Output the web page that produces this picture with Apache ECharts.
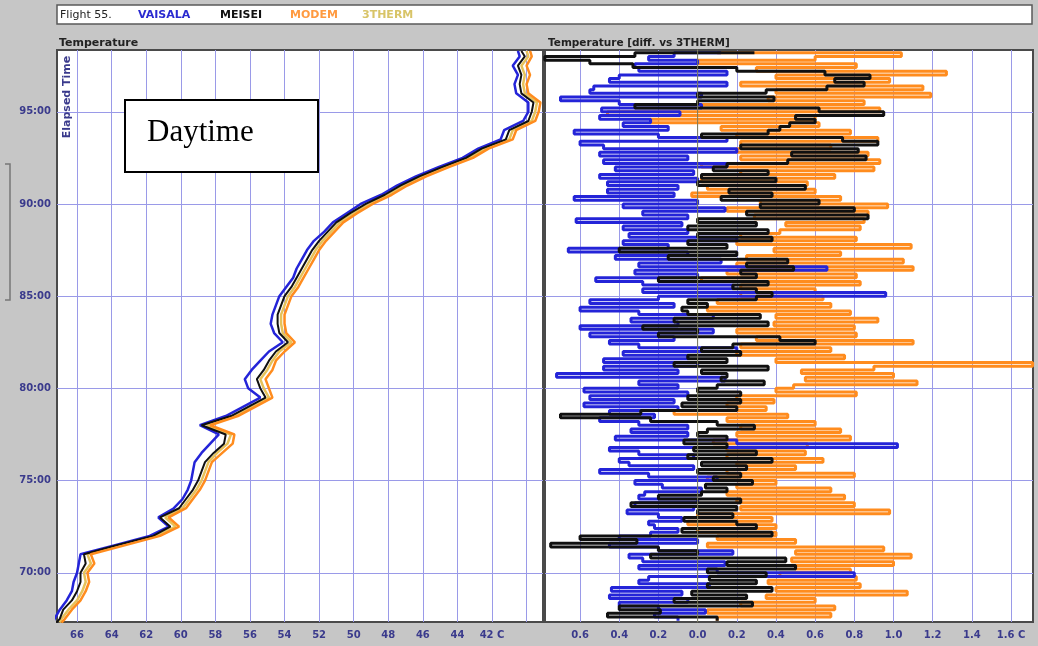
<!DOCTYPE html>
<html><head><meta charset="utf-8">
<script src="https://cdn.jsdelivr.net/npm/echarts@6/dist/echarts.min.js"></script>
<style>html,body{margin:0;padding:0;background:#c6c6c6}#c{width:1038px;height:646px}</style>
</head><body><div id="c"></div>
<script>
// ---------- tick labels ----------
const timeTicks = [70, 75, 80, 85, 90, 95];
const tempTicks = [-66, -64, -62, -60, -58, -56, -54, -52, -50, -48, -46, -44, -42, -40];
const tempLabelTicks = [-66, -64, -62, -60, -58, -56, -54, -52, -50, -48, -46, -44, -42];
const diffTicks = [-0.6, -0.4, -0.2, 0.0, 0.2, 0.4, 0.6, 0.8, 1.0, 1.2, 1.4, 1.6];

// ---------- left panel: temperature profiles (elapsed minutes) ----------
const timesL = [67.3, 67.5, 68.0, 68.5, 69.0, 69.5, 70.0, 70.5, 71.0, 71.5, 72.0, 72.5, 73.0, 73.5, 74.0, 74.5,
  75.0, 75.5, 76.0, 76.5, 77.0, 77.5, 78.0, 78.5, 79.0, 79.5, 80.0, 80.5, 81.0, 81.5, 82.0, 82.5,
  83.0, 83.5, 84.0, 84.5, 85.0, 85.5, 86.0, 86.5, 87.0, 87.5, 88.0, 88.5, 89.0, 89.5, 90.0, 90.5,
  91.0, 91.5, 92.0, 92.5, 93.0, 93.5, 94.0, 94.5, 95.0, 95.5, 96.0, 96.5, 97.0, 97.5, 98.0, 98.3];
const vaisalaT = [-67.4, -67.3, -67.0, -66.6, -66.3, -66.2, -66.0, -65.9, -65.8, -63.8, -61.8, -60.7, -61.3, -60.4, -59.9, -59.6,
  -59.4, -59.3, -59.2, -58.8, -58.3, -57.8, -58.9, -57.4, -56.4, -55.4, -56.1, -56.3, -55.9, -55.4, -54.9, -54.1,
  -54.6, -54.8, -54.7, -54.5, -54.3, -53.9, -53.5, -53.3, -53.0, -52.7, -52.3, -51.7, -51.2, -50.4, -49.6, -48.4,
  -47.5, -46.4, -45.1, -43.7, -42.8, -41.5, -41.3, -40.2, -39.9, -39.9, -40.6, -40.7, -40.5, -40.8, -40.4, -40.5];
const meiseiT = [-67.2, -67.0, -66.8, -66.3, -66.0, -65.8, -65.8, -65.5, -65.6, -63.7, -61.6, -60.6, -61.2, -60.1, -59.7, -59.3,
  -59.0, -58.8, -58.6, -58.1, -57.5, -57.4, -58.8, -57.1, -56.1, -55.1, -55.4, -55.6, -55.2, -54.9, -54.5, -53.8,
  -54.3, -54.4, -54.4, -54.2, -54.0, -53.6, -53.3, -53.0, -52.7, -52.4, -52.0, -51.5, -51.0, -50.2, -49.3, -48.2,
  -47.3, -46.2, -44.9, -43.5, -42.6, -41.2, -41.0, -39.9, -39.7, -39.6, -40.3, -40.4, -40.3, -40.5, -40.1, -40.3];
const modemT = [-66.9, -66.7, -66.3, -65.8, -65.5, -65.3, -65.4, -65.0, -65.2, -63.2, -61.2, -60.1, -60.7, -59.7, -59.3, -58.9,
  -58.6, -58.4, -58.2, -57.6, -57.0, -56.9, -58.3, -56.7, -55.7, -54.7, -54.9, -55.1, -54.7, -54.5, -54.0, -53.4,
  -53.9, -54.0, -54.0, -53.8, -53.6, -53.2, -52.9, -52.6, -52.3, -52.0, -51.6, -51.1, -50.6, -49.8, -48.9, -47.8,
  -46.9, -45.8, -44.5, -43.1, -42.2, -40.8, -40.6, -39.5, -39.3, -39.2, -39.9, -40.0, -39.8, -40.0, -39.7, -39.8];
const thermT = [-67.0, -66.9, -66.5, -66.0, -65.7, -65.5, -65.6, -65.2, -65.4, -63.4, -61.4, -60.3, -60.9, -59.9, -59.5, -59.1,
  -58.8, -58.6, -58.4, -57.9, -57.3, -57.1, -58.5, -56.9, -55.9, -54.9, -55.2, -55.4, -55.0, -54.7, -54.3, -53.6,
  -54.1, -54.2, -54.2, -54.0, -53.8, -53.4, -53.1, -52.8, -52.5, -52.2, -51.8, -51.3, -50.8, -50.0, -49.1, -48.0,
  -47.1, -46.0, -44.7, -43.3, -42.4, -41.0, -40.8, -39.7, -39.5, -39.4, -40.1, -40.2, -40.1, -40.3, -39.9, -40.0];

// ---------- right panel: differences vs 3THERM, sampled every 0.2 min from 67.4 ----------
const diffStart = 67.4;
const diffStep = 0.2;
const vaisalaD = [
  -0.10, -0.22, 0.04, -0.20,  -0.40, -0.05, -0.45, -0.08,
  -0.44, 0.06, -0.30,  -0.25, 0.80, 0.10,  -0.30, 0.14, -0.28,  -0.35, 0.18, -0.20,
  -0.45, 0.00, -0.40,  -0.24, -0.10, -0.22,  -0.25, -0.08, -0.20,  -0.36, -0.02,
  -0.32, 0.00, -0.30,  -0.27, 0.02, -0.18,  -0.32, 0.10, -0.25,  -0.50, -0.02, -0.35,
  -0.40, -0.02, -0.30,  -0.45, 1.02,
  0.20, -0.42, -0.05,  -0.34, -0.05, -0.30,  -0.50, -0.22, -0.45,  -0.10, -0.58, -0.12,
  -0.55, -0.05, -0.58,  -0.10, -0.30, 0.14,  -0.72, -0.10, -0.48,  0.00, -0.48, -0.05,
  -0.38, 0.20, -0.30,  -0.45, -0.12, -0.55,  0.08, -0.60, -0.10,  -0.34, 0.08, -0.30,
  -0.60, -0.12, -0.55,  -0.20, 0.96, -0.28,  0.18, -0.28, -0.52,  0.00, -0.32, 0.66,
  -0.30, 0.12, -0.42,  -0.05, -0.66, -0.15,  -0.38, 0.20, -0.35,  -0.05, -0.38, -0.08,
  -0.62, -0.05, -0.28,  0.14, -0.38, 0.00,  -0.63, -0.12, -0.46,  -0.10, -0.46, 0.00,
  -0.50, -0.02, -0.42,  0.15, -0.48, -0.05,  -0.50, 0.20, -0.48,  -0.60, 0.15, -0.20,
  -0.63, -0.15, -0.38,  -0.24, -0.50, -0.09,  -0.49, 0.02, -0.40,  -0.70, 0.02, -0.55,
  -0.53, 0.15, -0.45,  -0.40, 0.15, -0.30,  -0.32, 0.00, -0.25,  -0.12, 0.12];
const meiseiD = [
  0.10, -0.46, -0.19, -0.40,  0.28, -0.12, 0.25, -0.03,
  0.38, 0.05, 0.30,  0.06, 0.35, 0.05,  0.50, 0.15, 0.45,  -0.24, 0.00, -0.20,
  -0.75, -0.31, -0.60,  0.38, -0.08, 0.30,  0.20, -0.07, 0.18,  0.00, 0.20,
  -0.34, 0.22, -0.20,  0.02, 0.15, 0.04,  0.28, 0.08, 0.22,  0.00, 0.25, 0.02,
  0.38, -0.05, 0.30,  -0.02, 0.15,
  -0.07, 0.15, 0.00,  0.05, 0.29, 0.10,  -0.24, -0.70, -0.29,  0.20, -0.08, 0.22,
  -0.05, 0.22, 0.00,  0.10, 0.34, 0.12,  0.15, 0.02, 0.36,  -0.12, 0.15, -0.05,
  0.22, 0.02, 0.18,  0.60, 0.42, -0.20,  0.00, -0.28, 0.36,  -0.12, 0.32, -0.05,
  -0.08, 0.05, -0.05,  0.30, 0.38, 0.30,  0.18, 0.36, -0.20,  0.30, 0.22, 0.49,
  0.25, 0.46, -0.15,  0.20, -0.40, 0.15,  -0.05, 0.38, 0.00,  0.36, -0.05, 0.30,
  0.00, 0.87, 0.25,  0.80, 0.32, 0.62,  0.12, 0.38, 0.16,  0.55, 0.00, 0.40,
  0.02, 0.36, 0.08,  0.15, 0.46, 0.86,  0.48, 0.82, 0.22,  0.92, 0.74, 0.02,
  0.36, 0.42, 0.47,  0.60, 0.50, 0.95,  0.62, -0.32, 0.00,  0.39, 0.00, 0.35,
  0.66, 0.85, 0.70,  0.88, 0.65, 0.20,  -0.33, -0.55, -0.78,  -0.32, 0.29];
const modemD = [
  0.10, 0.68, 0.05, 0.70,  0.22, 0.60, 0.35, 1.07,
  0.40, 0.83, 0.36,  0.81, 0.42, 0.78,  0.50, 1.00, 0.48,  1.09, 0.50, 0.95,
  0.05, 0.50, 0.10,  0.40, 0.00, 0.40,  -0.05, 0.38, 0.00,  0.98, 0.22,
  0.80, 0.20, 0.75,  0.15, 0.68, 0.20,  0.40, 0.05, 0.80,  0.15, 0.50, 0.20,
  0.64, 0.15, 0.55,  0.15, 0.56,
  0.08, 0.78, 0.20,  0.73, 0.22, 0.60,  0.15, 0.46, -0.12,  0.35, 0.15, 0.39,
  0.20, 0.81, 0.40,  0.49, 1.12, 0.55,  1.00, 0.53, 0.90,  1.71, 0.40, 0.75,
  0.20, 0.68, 0.22,  1.10, 0.30, 0.81,  0.20, 0.80, 0.39,  0.92, 0.40, 0.78,
  0.05, 0.68, 0.10,  0.64, 0.22, 0.60,  0.22, 0.83, 0.02,  0.81, 0.15, 1.10,
  0.20, 1.05, 0.25,  0.73, 0.39, 1.09,  0.20, 0.81, 0.22,  0.42, 0.83, 0.45,
  0.85, 0.29, 0.87,  0.15, 0.97, 0.32,  0.73, -0.03, 0.60,  0.05, 0.56, 0.02,
  0.70, 0.22, 0.90,  0.02, 0.93, 0.22,  0.87, 0.20, 0.68,  0.22, 0.92, 0.20,
  0.78, 0.12, 0.62,  -0.24, 0.60, -0.46,  0.93, 0.02, 0.85,  0.36, 1.19, 0.40,
  1.15, 0.22, 0.98,  0.40, 1.27, 0.30,  0.81, 0.00, 0.60,  1.04, 0.10];
const thermD = [0, 0];
const thermDTimes = [67.3, 98.4];

const tMin = 67.33, tMax = 98.35;
const C = {vaisala: '#2424d8', meisei: '#101010', modem: '#ff8c1e', therm: '#e6c25a'};

function pairsL(arr) { return timesL.map((t, i) => [arr[i], t]); }
function pairsD(arr) { return arr.map((v, i) => [v, +(diffStart + i * diffStep).toFixed(2)]); }

const chart = echarts.init(document.getElementById('c'), null, {renderer: 'canvas'});
const gridLine = {show: true, lineStyle: {color: '#9a9ae8', width: 1}};
const labelStyle = {color: '#3a3a8c', fontSize: 10, fontWeight: 'bold', fontFamily: 'DejaVu Sans'};

function diffSeries(name, arr, color) {
  return {name: name, type: 'line', xAxisIndex: 1, yAxisIndex: 1, data: pairsD(arr), showSymbol: false, symbol: 'none',
    step: 'start', lineStyle: {color: color, width: 3}};
}

chart.setOption({
  animation: false,
  backgroundColor: '#c6c6c6',
  grid: [
    {left: 57, top: 50, width: 486, height: 572, show: true, backgroundColor: '#ffffff', borderColor: '#4a4a4a', borderWidth: 2},
    {left: 545, top: 50, width: 488, height: 572, show: true, backgroundColor: '#ffffff', borderColor: '#4a4a4a', borderWidth: 2}
  ],
  xAxis: [
    {type: 'value', gridIndex: 0, min: -67.16, max: -39.05,
      axisLine: {show: false},
      axisTick: {show: false, customValues: tempTicks},
      axisLabel: Object.assign({customValues: tempLabelTicks, margin: 8,
        formatter: v => (Math.round(v) === -42 ? '42 C' : String(Math.abs(Math.round(v))))}, labelStyle),
      splitLine: gridLine},
    {type: 'value', gridIndex: 1, min: -0.779, max: 1.712,
      axisLine: {show: false},
      axisTick: {show: false, customValues: diffTicks},
      axisLabel: Object.assign({customValues: diffTicks, margin: 8,
        formatter: v => { const s = Math.abs(v).toFixed(1); return Math.abs(v - 1.6) < 1e-6 ? s + ' C' : s; }}, labelStyle),
      splitLine: gridLine}
  ],
  yAxis: [
    {type: 'value', gridIndex: 0, min: tMin, max: tMax,
      axisLine: {show: false},
      axisTick: {show: false, customValues: timeTicks},
      axisLabel: Object.assign({customValues: timeTicks, margin: 6, formatter: v => Math.round(v) + ':00'}, labelStyle),
      splitLine: gridLine},
    {type: 'value', gridIndex: 1, min: tMin, max: tMax,
      axisLine: {show: false},
      axisTick: {show: false, customValues: timeTicks},
      axisLabel: {show: false, customValues: timeTicks},
      splitLine: gridLine}
  ],
  series: [
    {name: '3THERM', type: 'line', xAxisIndex: 0, yAxisIndex: 0, data: pairsL(thermT), showSymbol: false, symbol: 'none',
      lineStyle: {color: C.therm, width: 2.5}},
    {name: 'VAISALA', type: 'line', xAxisIndex: 0, yAxisIndex: 0, data: pairsL(vaisalaT), showSymbol: false, symbol: 'none',
      lineStyle: {color: C.vaisala, width: 2.5}},
    {name: 'MEISEI', type: 'line', xAxisIndex: 0, yAxisIndex: 0, data: pairsL(meiseiT), showSymbol: false, symbol: 'none',
      lineStyle: {color: C.meisei, width: 2}},
    {name: 'MODEM', type: 'line', xAxisIndex: 0, yAxisIndex: 0, data: pairsL(modemT), showSymbol: false, symbol: 'none',
      lineStyle: {color: C.modem, width: 2.5}},

    diffSeries('MODEM diff', modemD, C.modem),
    diffSeries('VAISALA diff', vaisalaD, C.vaisala),
    diffSeries('MEISEI diff', meiseiD, C.meisei),
    {name: '3THERM diff', type: 'line', xAxisIndex: 1, yAxisIndex: 1, data: thermDTimes.map((t, i) => [thermD[i], t]),
      showSymbol: false, symbol: 'none', lineStyle: {color: '#7c7c5a', width: 1}}
  ],
  graphic: [
    {type: 'rect', shape: {x: 57, y: 5, width: 975, height: 19}, style: {fill: '#ffffff', stroke: '#5a5a5a', lineWidth: 1.5}, z: 10},
    {type: 'text', x: 60, y: 15, style: {text: 'Flight 55.', fill: '#222', font: '11px "DejaVu Sans"', verticalAlign: 'middle'}, z: 11},
    {type: 'text', x: 138, y: 15, style: {text: 'VAISALA', fill: '#2a2ad0', font: 'bold 11px "DejaVu Sans"', verticalAlign: 'middle'}, z: 11},
    {type: 'text', x: 220, y: 15, style: {text: 'MEISEI', fill: '#111', font: 'bold 11px "DejaVu Sans"', verticalAlign: 'middle'}, z: 11},
    {type: 'text', x: 290, y: 15, style: {text: 'MODEM', fill: '#ff9a40', font: 'bold 11px "DejaVu Sans"', verticalAlign: 'middle'}, z: 11},
    {type: 'text', x: 362, y: 15, style: {text: '3THERM', fill: '#d8c468', font: 'bold 11px "DejaVu Sans"', verticalAlign: 'middle'}, z: 11},
    {type: 'text', x: 59, y: 43, style: {text: 'Temperature', fill: '#222', font: 'bold 11px "DejaVu Sans"', verticalAlign: 'middle'}, z: 11},
    {type: 'text', x: 548, y: 43, style: {text: 'Temperature [diff. vs 3THERM]', fill: '#222', font: 'bold 10.5px "DejaVu Sans"', verticalAlign: 'middle'}, z: 11},
    {type: 'text', x: 67, y: 97, rotation: Math.PI / 2, style: {text: 'Elapsed Time', fill: '#3a3a8c', font: 'bold 11px "DejaVu Sans"', align: 'center', verticalAlign: 'middle'}, z: 11},
    {type: 'polyline', shape: {points: [[5, 164], [10, 164], [10, 300], [5, 300]]}, style: {stroke: '#777', lineWidth: 1.5, fill: null}, z: 11},
    {type: 'rect', shape: {x: 125, y: 100, width: 193, height: 72}, style: {fill: '#ffffff', stroke: '#000', lineWidth: 2}, z: 100},
    {type: 'text', x: 147, y: 133, style: {text: 'Daytime', fill: '#000', font: '31px "Liberation Serif"', verticalAlign: 'middle'}, z: 101}
  ]
});
</script>
</body></html>
